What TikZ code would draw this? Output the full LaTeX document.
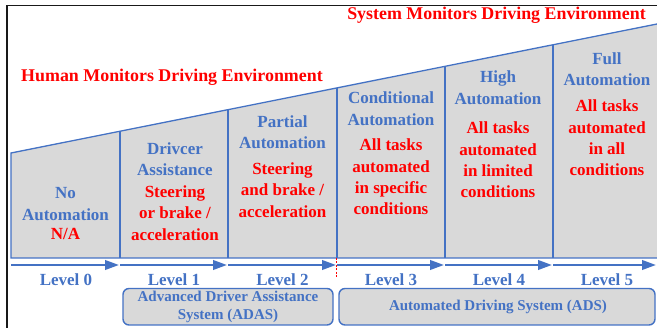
\documentclass[tikz,border=0pt]{standalone}
\usepackage{fontspec}
\setmainfont{Liberation Serif}
\usetikzlibrary{arrows.meta}
\definecolor{myblue}{HTML}{4472C4}
\definecolor{mygray}{HTML}{D9D9D9}
\definecolor{myred}{HTML}{FF0000}
\tikzset{
  head/.style={text=myblue, font=\bfseries\fontsize{17}{21.5}\selectfont, align=center, inner sep=0pt},
  task/.style={text=myred, font=\bfseries\fontsize{17}{21.3}\selectfont, align=center, inner sep=0pt},
  lvl/.style={text=myblue, font=\bfseries\fontsize{17}{20}\selectfont, inner sep=0pt},
  monitor/.style={text=myred, font=\bfseries\fontsize{17.9}{20}\selectfont, inner sep=0pt},
  sysbox/.style={draw=myblue, fill=mygray, line width=1.4pt, rounded corners=6pt},
  systext/.style={text=myblue, font=\bfseries\fontsize{15}{18}\selectfont, align=center, inner sep=0pt},
  divider/.style={draw=myblue, line width=1.3pt},
  levarrow/.style={draw=myblue, line width=2.4pt, -{Triangle[length=14pt,width=9.5pt]}, shorten >=1pt}
}
\begin{document}
\begin{tikzpicture}[x=1pt,y=-1pt]
\useasboundingbox (0,0) rectangle (657,328);
% frame
\draw[black!90, line width=1.6pt] (7,328) -- (7,5.5) -- (657,5.5);
% coordinates
\coordinate (t0) at (11,153);
\coordinate (t1) at (120,131.2);
\coordinate (t2) at (228,109.7);
\coordinate (t3) at (337,87.9);
\coordinate (t4) at (445,66.3);
\coordinate (t5) at (553,44.8);
\coordinate (t6) at (657,24);
\coordinate (g0) at (11,258);
\coordinate (g1) at (120,258);
\coordinate (g2) at (228,258);
\coordinate (g3) at (337,258);
\coordinate (g4) at (445,258);
\coordinate (g5) at (553,258);
\coordinate (g6) at (657,258);
% gray wedge
\fill[mygray] (t0) -- (t6) -- (g6) -- (g0) -- cycle;
\draw[divider] (t6) -- (t0) -- (g0) -- (g6);
\foreach \i in {1,...,5} { \draw[divider] (t\i) -- (g\i); }
% arrows
\coordinate (b0) at (11,265);
\coordinate (b1) at (120,265);
\coordinate (b2) at (228,265);
\coordinate (b3) at (337,265);
\coordinate (b4) at (445,265);
\coordinate (b5) at (553,265);
\coordinate (b6) at (657,265);
\foreach \i/\j in {0/1,1/2,2/3,3/4,4/5,5/6} { \draw[levarrow] (b\i) -- (b\j); }
% red dashed marker
\coordinate (d0) at (336,258);
\coordinate (d1) at (336,278);
\draw[myred, dashed, dash pattern=on 2pt off 1.5pt, line width=0.9pt] (d0) -- (d1);
% monitor labels
\node[monitor] (hum) at (172,77.5) {Human Monitors Driving Environment};
\node[monitor] (sys) at (496.5,15) {System Monitors Driving Environment};
% column texts
\node[head] (h0) at (65.5,204) {No\\Automation};
\node[task] (r0) at (65.5,234) {N/A};
\node[head] (h1) at (175,159) {Drivcer\\Assistance};
\node[task] (r1) at (175,213) {Steering\\or brake /\\acceleration};
\node[head] (h2) at (282.5,132) {Partial\\Automation};
\node[task] (r2) at (282.5,190) {Steering\\and brake /\\acceleration};
\node[head] (h3) at (391,108.5) {Conditional\\Automation};
\node[task] (r3) at (391,177) {All tasks\\automated\\in specific\\conditions};
\node[head] (h4) at (498,87.5) {High\\Automation};
\node[task] (r4) at (498,160) {All tasks\\automated\\in limited\\conditions};
\node[head] (h5) at (607,69) {Full\\Automation};
\node[task] (r5) at (607,138) {All tasks\\automated\\in all\\conditions};
% level labels
\node[lvl] (l0) at (66,280) {Level 0};
\node[lvl] (l1) at (174,280) {Level 1};
\node[lvl] (l2) at (282.5,280) {Level 2};
\node[lvl] (l3) at (391,280) {Level 3};
\node[lvl] (l4) at (499,280) {Level 4};
\node[lvl] (l5) at (607,280) {Level 5};
% system boxes
\draw[sysbox] (123,288.5) rectangle (333,325);
\node[systext] (adas) at (228,307) {Advanced Driver Assistance\\System (ADAS)};
\draw[sysbox] (339,288.5) rectangle (655,325);
\node[systext] (ads) at (498,307) {Automated Driving System (ADS)};
\end{tikzpicture}
\end{document}
